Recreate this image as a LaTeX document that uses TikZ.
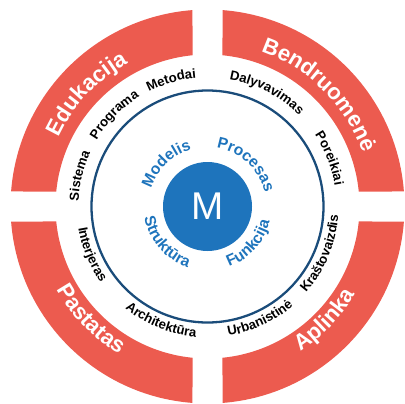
\documentclass[tikz,border=0pt]{standalone}
\usepackage{fontspec}
\setmainfont{Liberation Sans}
\usetikzlibrary{decorations.text}
\definecolor{bandred}{RGB}{236,91,79}
\definecolor{hubblue}{RGB}{30,116,188}
\definecolor{rimblue}{RGB}{26,76,122}
\begin{document}
\begin{tikzpicture}[x=0.2mm,y=0.2mm]
	\tikzset{band/.style = {fill=bandred}}
	\tikzset{rim/.style = {draw=rimblue, line width=1.3pt}}
	\tikzset{hub/.style = {shape=circle, fill=hubblue, minimum size=17.8mm, inner sep=0pt, text=white, font=\fontsize{22}{22}\selectfont}}
	\tikzset{redword/.style = {decorate, decoration={text along path, text align=center, text color=white, text={|\fontsize{12.6}{13}\selectfont\bfseries|#1}}}}
	\tikzset{blackword/.style = {decorate, decoration={text along path, text align=center, text color=black, text={|\fontsize{7.5}{8}\selectfont\bfseries|#1}}}}
	\tikzset{blueword/.style = {decorate, decoration={text along path, text align=center, text color=hubblue, text={|\fontsize{8.9}{9}\selectfont\bfseries|#1}}}}
	\useasboundingbox (-207.5,-196.5) rectangle (197.5,206.5);
	% Draw the four red quarters
	\foreach \q in {0,1,2,3} {
		\begin{scope}[rotate=90*\q]
			\fill[band] (4.37:197) arc[start angle=4.37, end angle=85.63, radius=197]
				-- (84.34:152) arc[start angle=84.34, end angle=5.66, radius=152] -- cycle;
		\end{scope}
	}
	% Draw the blue ring and the hub
	\draw[rim] (0,0) circle[radius=116];
	\node[hub] (m) at (0,0) {M};
	% Words on the red quarters
	\path[redword={Edukacija}] (177:164) arc[start angle=177, end angle=97, radius=164];
	\path[redword={Bendruomenė}] (85:164) arc[start angle=85, end angle=5, radius=164];
	\path[redword={Pastatas}] (184:172) arc[start angle=184, end angle=264, radius=172];
	\path[redword={Aplinka}] (276:172) arc[start angle=276, end angle=356, radius=172];
	% Words between the ring and the quarters
	\path[blackword={Metodai}] (136:129) arc[start angle=136, end angle=76, radius=129];
	\path[blackword={Programa}] (165.5:129) arc[start angle=165.5, end angle=105.5, radius=129];
	\path[blackword={Sistema}] (196.5:129) arc[start angle=196.5, end angle=136.5, radius=129];
	\path[blackword={Dalyvavimas}] (92.5:129) arc[start angle=92.5, end angle=32.5, radius=129];
	\path[blackword={Poreikiai}] (51.5:129) arc[start angle=51.5, end angle=-8.5, radius=129];
	\path[blackword={Interjeras}] (172.5:131) arc[start angle=172.5, end angle=232.5, radius=131];
	\path[blackword={Architektūra}] (218:131) arc[start angle=218, end angle=278, radius=131];
	\path[blackword={Urbanistinė}] (265:131) arc[start angle=265, end angle=325, radius=131];
	\path[blackword={Kraštovaizdis}] (307.5:131) arc[start angle=307.5, end angle=367.5, radius=131];
	% Words round the hub
	\path[blueword={Modelis}] (179:59) arc[start angle=179, end angle=89, radius=59];
	\path[blueword={Procesas}] (92.5:59) arc[start angle=92.5, end angle=2.5, radius=59];
	\path[blueword={Struktūra}] (176:64) arc[start angle=176, end angle=266, radius=64];
	\path[blueword={Funkcija}] (273:64) arc[start angle=273, end angle=363, radius=64];
\end{tikzpicture}
\end{document}
